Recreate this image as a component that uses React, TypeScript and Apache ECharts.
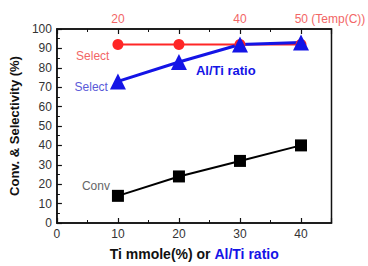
import React, { useEffect, useRef } from "react";
import * as echarts from "echarts";

const tiValues = [10, 20, 30, 40];
const convValues = [14, 24, 32, 40];
const tempValues = [20, 30, 40, 50];
const selectTempValues = [92, 92, 92, 92];
const alTiValues = [10, 20, 30, 40];
const selectAlTiValues = [73, 83, 92, 93];
const yTicks = [0, 10, 20, 30, 40, 50, 60, 70, 80, 90, 100];
const topLabels: Record<number, string> = { 20: "20", 40: "40", 50: "50" };

const FONT = "Liberation Sans, Arial, sans-serif";
const BLUE = "#1414e6";
const RED = "#ff2626";

export default function App() {
  const ref = useRef<HTMLDivElement>(null);
  useEffect(() => {
    const chart = echarts.init(ref.current!, null, { renderer: "svg" });
    const baseAxis = {
      axisLine: { show: true, lineStyle: { color: "#111", width: 1.5 } },
      axisTick: { show: true, inside: true, length: 5, lineStyle: { color: "#111", width: 1.2 } },
      minorTick: { show: true, splitNumber: 2, length: 3, lineStyle: { color: "#111", width: 1 } },
      splitLine: { show: false },
      minorSplitLine: { show: false },
    };
    chart.setOption({
      animation: false,
      textStyle: { fontFamily: FONT },
      grid: {
        left: 54, right: 34, top: 29, bottom: 38,
        show: true, borderColor: "#111", borderWidth: 1.5, backgroundColor: "transparent",
      },
      xAxis: [
        {
          ...baseAxis,
          type: "value", position: "bottom", min: 0, max: 45, interval: 10,
          axisLabel: {
            color: "#333", fontSize: 12, margin: 5, showMaxLabel: false,
            formatter: (v: number) => (v % 10 === 0 ? String(v) : ""),
          },
          name: "{b|Ti mmole(%) or }{c|Al/Ti ratio}",
          nameLocation: "middle", nameGap: 24,
          nameTextStyle: {
            rich: {
              b: { fontSize: 14, fontWeight: "bold", color: "#111", fontFamily: FONT },
              c: { fontSize: 14, fontWeight: "bold", color: BLUE, fontFamily: FONT },
            },
          },
        },
        {
          ...baseAxis,
          type: "value", position: "top", min: 10, max: 55, interval: 10,
          axisLabel: {
            color: "#f26666", fontSize: 12, margin: 4, showMaxLabel: false,
            formatter: (v: number) =>
              v === 50 ? "{p|}50 (Temp(C))" : topLabels[v] ?? "",
            rich: { p: { width: 58 } },
          },
        },
      ],
      yAxis: {
        ...baseAxis,
        type: "value", min: yTicks[0], max: yTicks[yTicks.length - 1], interval: 10,
        axisLabel: { color: "#333", fontSize: 12, margin: 5 },
        name: "Conv. & Selectivity (%)",
        nameLocation: "middle", nameGap: 32, nameRotate: 90,
        nameTextStyle: { fontSize: 13, fontWeight: "bold", color: "#111", fontFamily: FONT },
      },
      series: [
        {
          type: "line", xAxisIndex: 0,
          data: tiValues.map((x, i) =>
            i === 0
              ? {
                  value: [x, convValues[i]],
                  label: {
                    show: true, position: "left", distance: 2, offset: [0, -10],
                    formatter: "Conv", color: "#666", fontSize: 12,
                  },
                }
              : [x, convValues[i]]
          ),
          symbol: "rect", symbolSize: 12,
          itemStyle: { color: "#000" },
          lineStyle: { color: "#000", width: 2 },
        },
        {
          type: "line", xAxisIndex: 1,
          data: tempValues.map((x, i) =>
            i === 0
              ? {
                  value: [x, selectTempValues[i]],
                  label: {
                    show: true, position: "left", distance: 3, offset: [0, 11],
                    formatter: "Select", color: "#f26666", fontSize: 12,
                  },
                }
              : [x, selectTempValues[i]]
          ),
          symbol: "circle", symbolSize: 11,
          itemStyle: { color: RED },
          lineStyle: { color: RED, width: 2 },
        },
        {
          type: "line", xAxisIndex: 0,
          data: alTiValues.map((x, i) =>
            i === 0
              ? {
                  value: [x, selectAlTiValues[i]],
                  label: {
                    show: true, position: "left", distance: 2, offset: [0, 6],
                    formatter: "Select", color: "#5a5ad8", fontSize: 12,
                  },
                }
              : i === 1
              ? {
                  value: [x, selectAlTiValues[i]],
                  label: {
                    show: true, position: "right", distance: 9, offset: [0, 9],
                    formatter: "Al/Ti ratio", color: BLUE, fontSize: 13, fontWeight: "bold",
                  },
                }
              : [x, selectAlTiValues[i]]
          ),
          symbol: "triangle", symbolSize: 16,
          itemStyle: { color: BLUE },
          lineStyle: { color: BLUE, width: 3 },
        },
      ],
    });
    return () => chart.dispose();
  }, []);
  return (
    <div
      ref={ref}
      style={{ position: "absolute", left: 0, top: 0, width: 368, height: 266, background: "#fff" }}
    />
  );
}
